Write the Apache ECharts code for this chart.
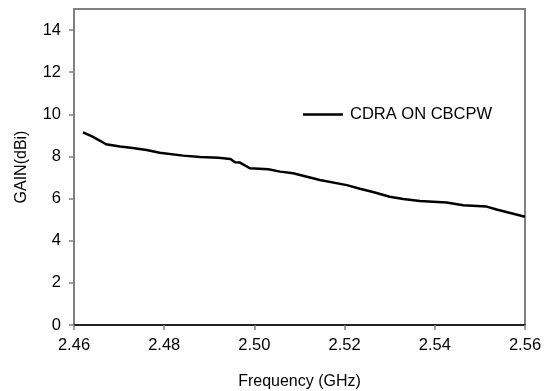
<!DOCTYPE html>
<html>
<head>
<meta charset="utf-8">
<script src="https://cdn.jsdelivr.net/npm/echarts@6/dist/echarts.min.js"></script>
<style>
  html, body { margin: 0; padding: 0; background: #fff; }
  #chart { width: 545px; height: 391px; }
</style>
</head>
<body>
<div id="chart"></div>
<script>
// frequency (GHz) and gain (dBi)
const freq = [2.4620, 2.4640, 2.4660, 2.4671, 2.4702, 2.4730, 2.4761, 2.4790, 2.4842, 2.4880,
  2.4920, 2.4947, 2.4957, 2.4968, 2.4990, 2.5031, 2.5057, 2.5086, 2.5145, 2.5205,
  2.5234, 2.5265, 2.5300, 2.5330, 2.5367, 2.5426, 2.5463, 2.5515, 2.5537, 2.5563, 2.5600];
const gain = [9.14, 8.95, 8.72, 8.58, 8.47, 8.40, 8.31, 8.18, 8.04, 7.98,
  7.94, 7.88, 7.72, 7.71, 7.44, 7.39, 7.28, 7.20, 6.88, 6.64,
  6.47, 6.30, 6.09, 5.98, 5.89, 5.81, 5.68, 5.62, 5.48, 5.34, 5.14];
const seriesName = 'CDRA ON CBCPW';

const font = 'Liberation Sans, Arial, sans-serif';
const chart = echarts.init(document.getElementById('chart'));

chart.setOption({
  backgroundColor: '#fff',
  animation: false,
  grid: {
    left: 74, right: 20, top: 9, bottom: 66,
    outerBoundsMode: 'none',
    containLabel: false,
    show: true,
    borderColor: '#808080',
    borderWidth: 2
  },
  legend: {
    left: 298,
    top: 101,
    icon: 'rect',
    itemWidth: 40,
    itemHeight: 2.5,
    textStyle: { fontFamily: font, fontSize: 16.5, color: '#000', padding: [0, 0, 0, 2] },
    data: [{ name: seriesName, itemStyle: { color: '#000' } }]
  },
  xAxis: {
    type: 'value',
    min: 2.46,
    max: 2.56,
    interval: 0.02,
    name: 'Frequency (GHz)',
    nameLocation: 'middle',
    nameGap: 49,
    nameTextStyle: { fontFamily: font, fontSize: 16, color: '#000' },
    axisLine: { lineStyle: { color: '#000', width: 1.5 } },
    axisTick: { show: true, length: 5, lineStyle: { color: '#808080', width: 1.5 } },
    axisLabel: {
      margin: 12,
      fontFamily: font, fontSize: 16.5, color: '#000',
      formatter: v => v.toFixed(2)
    },
    splitLine: { show: false }
  },
  yAxis: {
    type: 'value',
    min: 0,
    max: 15,
    interval: 2,
    name: 'GAIN(dBi)',
    nameLocation: 'middle',
    nameGap: 44,
    nameTextStyle: { fontFamily: font, fontSize: 16, color: '#000' },
    axisLine: { show: true, lineStyle: { color: '#808080', width: 2 } },
    axisTick: { show: true, length: 5, lineStyle: { color: '#808080', width: 1.5 } },
    axisLabel: {
      margin: 13,
      showMaxLabel: false,
      fontFamily: font, fontSize: 16.5, color: '#000'
    },
    splitLine: { show: false }
  },
  series: [{
    name: seriesName,
    type: 'line',
    data: freq.map((f, i) => [f, gain[i]]),
    showSymbol: false,
    symbol: 'none',
    lineStyle: { color: '#000', width: 2.5 },
    itemStyle: { color: '#000' }
  }]
});
</script>
</body>
</html>
